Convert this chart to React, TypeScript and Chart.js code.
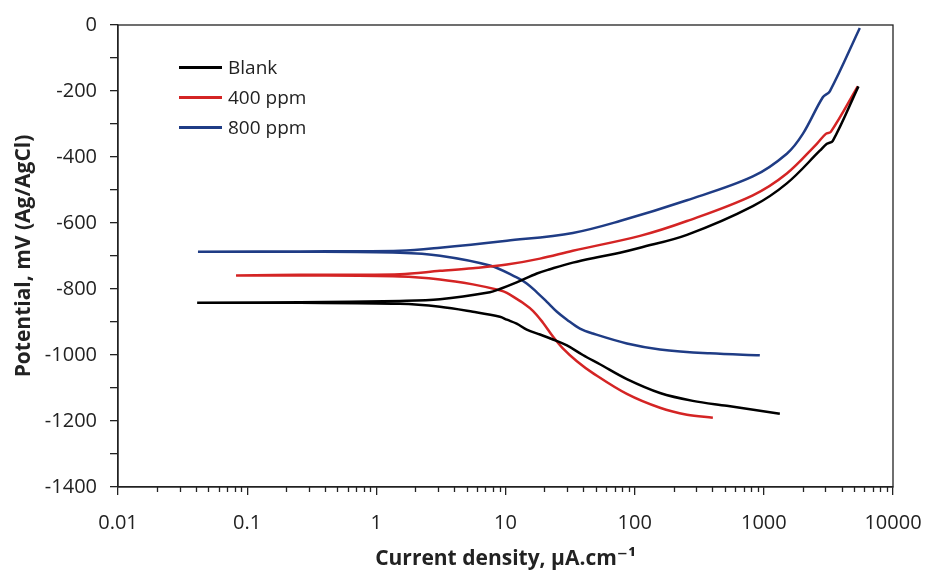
import React, { useEffect, useRef } from "react";
import { Chart, registerables } from "chart.js";

Chart.register(...registerables);

// Blank: cathodic branch (from high current back to Ecorr), then anodic branch
const blankCurrent = [1330, 517, 282, 157, 87, 53.8, 39.7, 29.9, 23.3, 18.5, 14.6, 12.2, 10.25, 9.05, 5.59, 3.11, 1.52, 0.257, 0.041, 0.257, 1.52, 3.11, 7.57, 9.05, 12.2, 17.5, 22.1, 33.2, 53.8, 76.8, 110, 254, 822, 1507, 2713, 3076, 3420, 5400];
const blankPotential = [-1178, -1154, -1139, -1115, -1073, -1028, -1000, -971, -953, -938, -923, -905, -893, -884, -869, -854, -845, -842, -842, -840, -836, -831, -810, -800, -780, -753, -740, -720, -702, -690, -675, -636, -549, -480, -381, -360, -351, -186];

const ppm400Current = [403, 254, 157, 87, 47.5, 35.7, 27.8, 23.3, 19.5, 16.3, 13.6, 12.2, 10.25, 9.05, 5.59, 3.11, 1.52, 0.257, 0.082, 0.257, 1.52, 3.11, 5.59, 10.25, 18.5, 33.2, 110, 254, 822, 1507, 2572, 3020, 3300, 5340];
const ppm400Potential = [-1190, -1181, -1160, -1118, -1055, -1019, -980, -944, -902, -866, -842, -830, -812, -804, -786, -771, -762, -759, -759, -757, -755, -745, -737, -726, -708, -684, -639, -594, -516, -450, -360, -330, -324, -186];

const ppm800Current = [931, 382, 157, 87, 47.5, 37.7, 29.9, 25.0, 20.9, 17.5, 14.6, 12.2, 7.57, 3.11, 1.52, 0.257, 0.0416, 0.257, 1.52, 3.11, 10.25, 33.2, 76.8, 254, 822, 1507, 2004, 2862, 3242, 5534];
const ppm800Potential = [-1001, -995, -983, -965, -935, -920, -893, -869, -839, -810, -783, -765, -729, -699, -690, -687, -687, -686, -684, -675, -654, -630, -594, -531, -459, -390, -330, -219, -201, -9];

const seriesNames = ["Blank", "400 ppm", "800 ppm"];
const seriesColors = ["#000000", "#d42424", "#1f3c85"];

const xDecades = [0.01, 0.1, 1, 10, 100, 1000, 10000];
const xMinorMultipliers = [2, 3, 4, 5, 6, 7, 8, 9];
const yMin = -1400;
const yMax = 0;
const yTickStep = 100;
const yLabelStep = 200;

const xTitle = "Current density, µA.cm⁻¹";
const yTitle = "Potential, mV (Ag/AgCl)";

const AXIS_COLOR = "#222222";
const FONT = "'Open Sans', 'DejaVu Sans', sans-serif";

function toPoints(xs: number[], ys: number[]) {
  return xs.map((x, i) => ({ x, y: ys[i] }));
}

const framePlugin = {
  id: "frameAndMinor",
  afterDraw(chart: any) {
    const { ctx, chartArea } = chart;
    const { left, top, right, bottom } = chartArea;
    const xs = chart.scales.x;
    ctx.save();
    ctx.strokeStyle = AXIS_COLOR;
    ctx.lineWidth = 1.3;
    ctx.strokeRect(left, top, right - left, bottom - top);
    ctx.beginPath();
    for (let i = 0; i < xDecades.length - 1; i++) {
      for (const m of xMinorMultipliers) {
        const px = Math.round(xs.getPixelForValue(xDecades[i] * m)) + 0.5;
        ctx.moveTo(px, bottom);
        ctx.lineTo(px, bottom + 5);
      }
    }
    ctx.stroke();
    ctx.restore();
  },
};

export default function App() {
  const canvasRef = useRef<HTMLCanvasElement | null>(null);

  useEffect(() => {
    const canvas = canvasRef.current;
    if (!canvas) return;
    const datasets = [
      toPoints(blankCurrent, blankPotential),
      toPoints(ppm400Current, ppm400Potential),
      toPoints(ppm800Current, ppm800Potential),
    ].map((data, i) => ({
      label: seriesNames[i],
      data,
      borderColor: seriesColors[i],
      backgroundColor: seriesColors[i],
      borderWidth: 2.5,
      pointRadius: 0,
      pointHoverRadius: 0,
      fill: false,
      tension: 0.35,
    }));

    const chart = new Chart(canvas, {
      type: "line",
      data: { datasets },
      plugins: [framePlugin],
      options: {
        animation: false,
        responsive: false,
        devicePixelRatio: 1,
        layout: { padding: { top: 20, right: 32, left: 0, bottom: 0 } },
        plugins: {
          legend: { display: false },
          tooltip: { enabled: false },
        },
        scales: {
          x: {
            type: "logarithmic",
            min: xDecades[0],
            max: xDecades[xDecades.length - 1],
            afterBuildTicks: (scale: any) => {
              scale.ticks = xDecades.map((v) => ({ value: v, major: true }));
            },
            afterFit: (scale: any) => {
              scale.height = 83;
              scale.paddingLeft = 0;
              scale.paddingRight = 0;
            },
            ticks: {
              autoSkip: false,
              maxRotation: 0,
              padding: 16,
              color: AXIS_COLOR,
              font: { family: FONT, size: 20 },
              callback: (v: any) => String(v),
            },
            grid: {
              drawOnChartArea: false,
              drawTicks: true,
              tickLength: 8,
              color: AXIS_COLOR,
              lineWidth: 1.3,
            },
            border: { display: true, color: AXIS_COLOR, width: 1.3 },
            title: {
              display: true,
              text: xTitle,
              color: AXIS_COLOR,
              font: { family: FONT, size: 21, weight: "bold", lineHeight: 1.0 },
              padding: { top: 0, bottom: 0 },
            },
          },
          y: {
            type: "linear",
            min: yMin,
            max: yMax,
            afterFit: (scale: any) => {
              scale.width = 118;
            },
            ticks: {
              stepSize: yTickStep,
              autoSkip: false,
              padding: 13,
              color: AXIS_COLOR,
              font: { family: FONT, size: 20 },
              callback: (v: any) => (Number(v) % yLabelStep === 0 ? String(v) : ""),
            },
            grid: {
              drawOnChartArea: false,
              drawTicks: true,
              tickLength: 8,
              color: AXIS_COLOR,
              lineWidth: 1.3,
            },
            border: { display: true, color: AXIS_COLOR, width: 1.3 },
            title: {
              display: true,
              text: yTitle,
              color: AXIS_COLOR,
              font: { family: FONT, size: 21, weight: "bold" },
              padding: { top: 11, bottom: 0 },
            },
          },
        },
      },
    } as any);
    return () => chart.destroy();
  }, []);

  const legendCenters = [67, 97, 127];

  return (
    <div style={{ position: "absolute", left: 0, top: 0, width: 925, height: 570, background: "#fff" }}>
      <canvas ref={canvasRef} width={925} height={570} style={{ display: "block", width: 925, height: 570 }} />
      {seriesNames.map((name, i) => (
        <div
          key={name}
          style={{
            position: "absolute",
            left: 179,
            top: legendCenters[i] - 12,
            height: 24,
            display: "flex",
            alignItems: "center",
            fontFamily: FONT,
            fontSize: 19,
            color: AXIS_COLOR,
            whiteSpace: "nowrap",
          }}
        >
          <span style={{ display: "inline-block", width: 43, height: 3, background: seriesColors[i], marginRight: 6 }} />
          <span style={{ lineHeight: "24px" }}>{name}</span>
        </div>
      ))}
    </div>
  );
}
